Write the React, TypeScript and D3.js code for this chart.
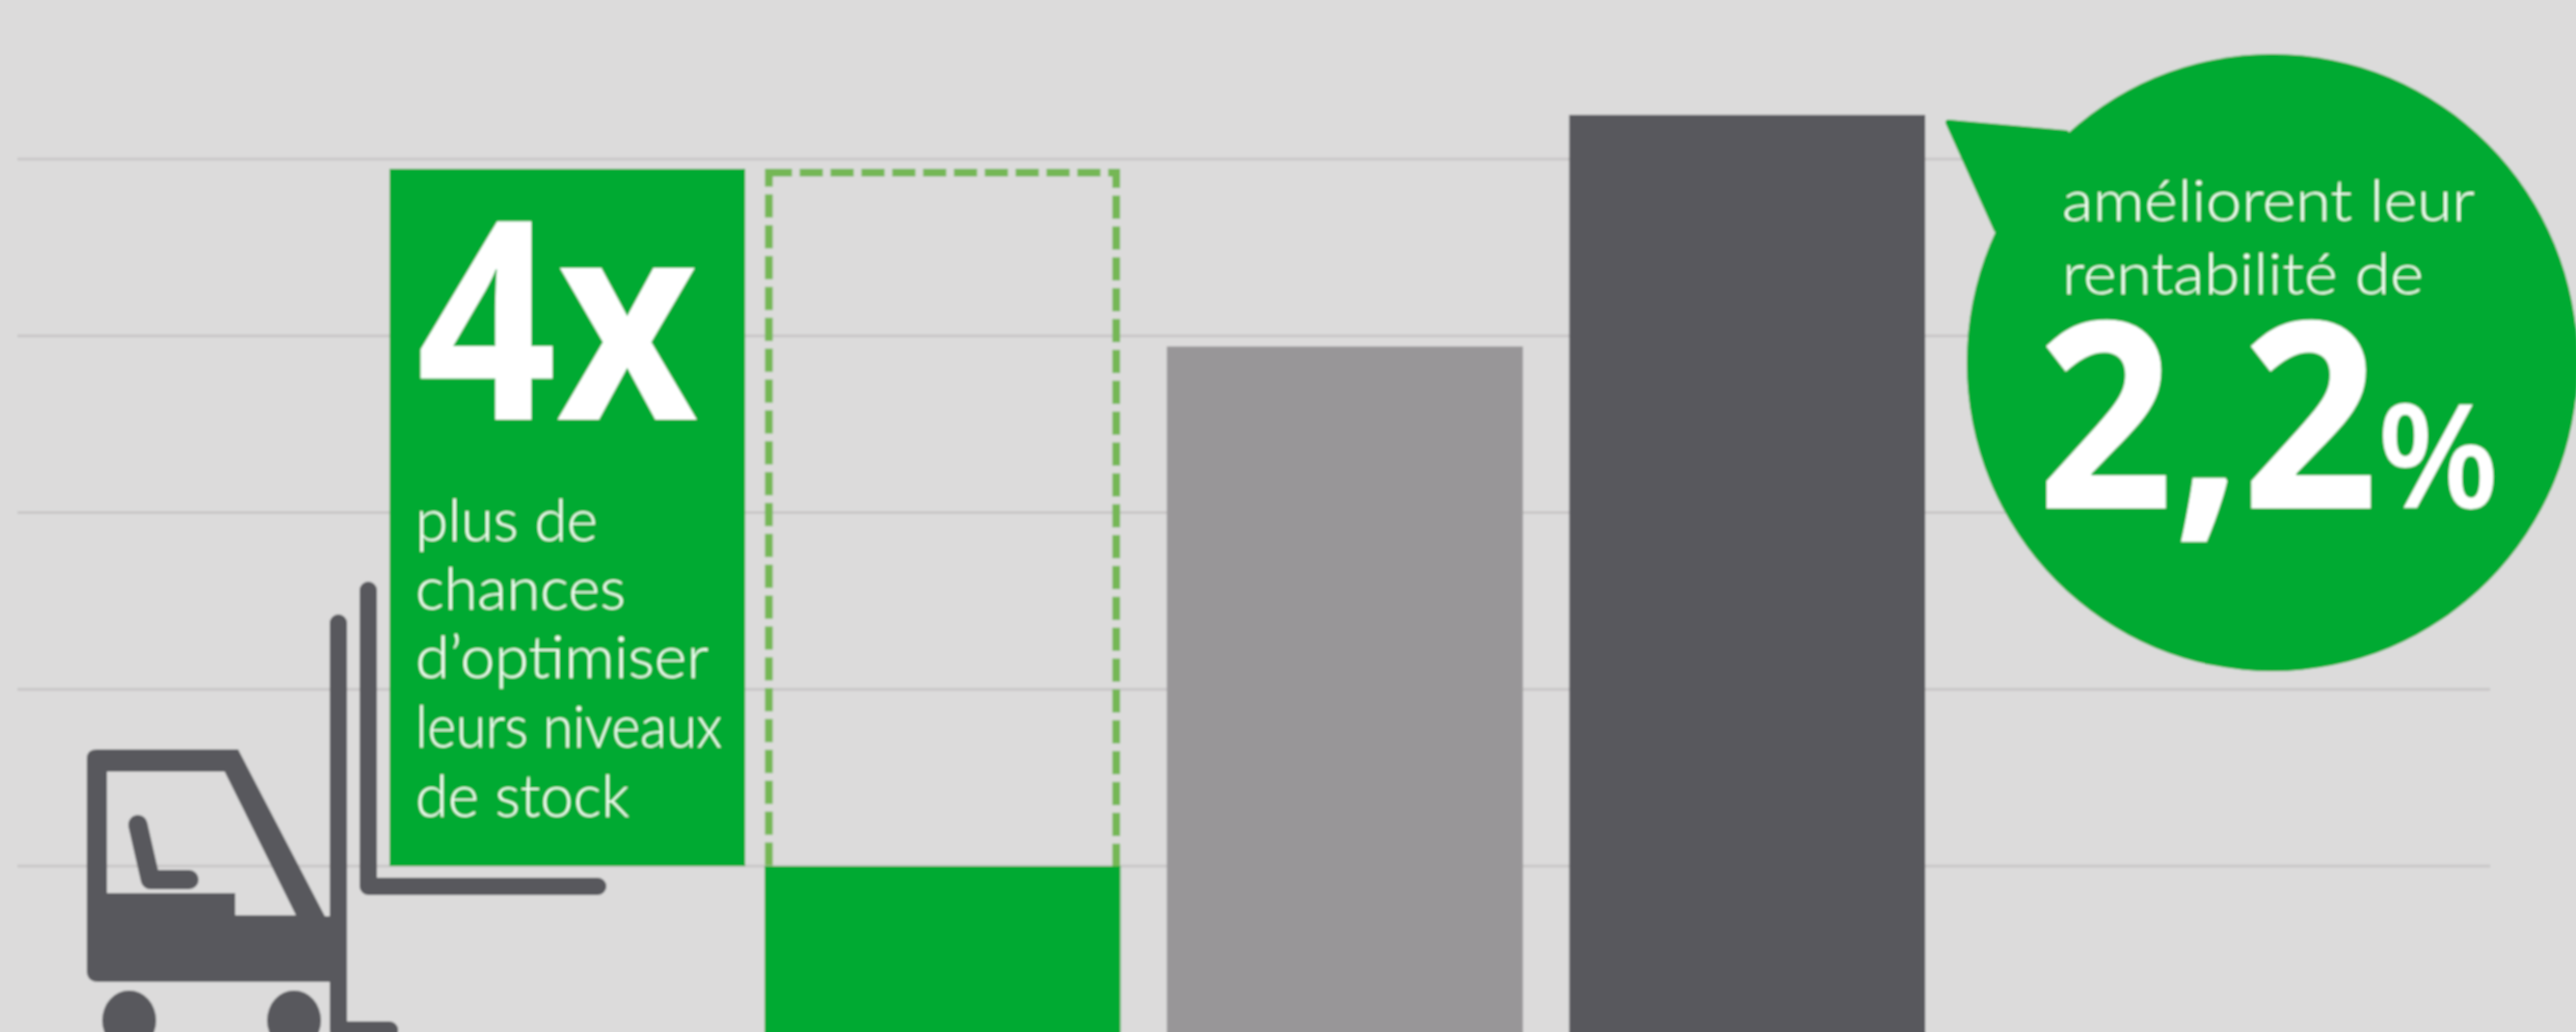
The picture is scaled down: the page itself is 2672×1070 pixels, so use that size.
import React from "react";
import * as d3 from "d3";

const categories = ["Objectif", "Moyenne", "Leaders"];
const barValues = [1, 3.94, 5.25];
const barColors = ["#00aa33", "#989698", "#58595d"];
const dashedTopValue = 4.945;
const gridTicks = [1, 2, 3, 4, 5];
const boxLines = ["plus de", "chances", "d’optimiser", "leurs niveaux", "de stock"];
const bubbleLines = ["améliorent leur", "rentabilité de"];

const W = 2672;
const H = 1070;
const GREEN = "#00aa33";
const DARK = "#58595d";
const BG = "#dcdbdb";
const FONT = "Lato, 'Open Sans', sans-serif";
const BOLD = "'Open Sans', Lato, sans-serif";

export default function App() {
  const y = d3.scaleLinear().domain([0, 5]).range([1081.25, 165]);
  const x = d3
    .scaleBand<string>()
    .domain(categories)
    .range([793, 1997])
    .paddingInner(48 / 417);
  const bw = x.bandwidth();
  const boxBaselines = [561, 632, 703, 775, 847];
  const boxWidths = [189, 218, 304, 318, 222];
  const first = x(categories[0])!;

  return (
    <svg
      width={W}
      height={H}
      viewBox={`0 0 ${W} ${H}`}
      style={{ position: "absolute", left: 0, top: 0, display: "block", background: BG }}
    >
      <defs>
        <filter id="soft" x="0" y="0" width="100%" height="100%">
          <feGaussianBlur stdDeviation="0.9" />
        </filter>
      </defs>
      <g filter="url(#soft)">
        <rect width={W} height={H} fill={BG} />
        {gridTicks.map((t) => (
          <line key={t} x1={18} x2={2583} y1={y(t)} y2={y(t)} stroke="#c9c7c8" strokeWidth={3} />
        ))}

        {/* dashed target frame: its foot is hidden under the solid bar */}
        <rect
          x={first + 4.5}
          y={y(dashedTopValue) + 4}
          width={bw - 9}
          height={y(1) - y(dashedTopValue) + 12}
          fill="none"
          stroke="#74b755"
          strokeWidth={8}
          strokeDasharray="24 8"
        />

        {categories.map((c, i) => (
          <rect
            key={c}
            x={x(c)}
            y={y(barValues[i])}
            width={bw}
            height={y(0) - y(barValues[i])}
            fill={barColors[i]}
          />
        ))}

        {/* forklift */}
        <g fill={DARK}>
          <path
            fillRule="evenodd"
            d="M100 777 H247 L337 950 H352 V1018 H102 Q90 1018 90 1006 V787 Q90 777 100 777 Z
               M111 800 V926 H244 V949 H307 L233 800 Z"
          />
          <ellipse cx={134} cy={1058} rx={28} ry={31} />
          <ellipse cx={305} cy={1058} rx={28} ry={31} />
        </g>
        <g fill="none" stroke={DARK} strokeLinecap="round" strokeLinejoin="round">
          <path d="M143 855 L156 912 H196" strokeWidth={20} />
          <path d="M351 646 V1068 H404" strokeWidth={18} />
          <path d="M382 612 V919 H620" strokeWidth={18} />
        </g>

        {/* green box */}
        <rect x={404} y={y(dashedTopValue)} width={369} height={y(1) - y(dashedTopValue)} fill={GREEN} />
        <text x={432} y={435} fill="#fff" fontFamily={BOLD} fontWeight={700} fontSize={288} textLength={292} lengthAdjust="spacingAndGlyphs">
          4x
        </text>
        {boxLines.map((l, i) => (
          <text
            key={l}
            x={431}
            y={boxBaselines[i]}
            fill="#f2fff2"
            fontFamily={FONT}
            fontWeight={300}
            fontSize={62}
            textLength={boxWidths[i]}
            lengthAdjust="spacingAndGlyphs"
          >
            {l}
          </text>
        ))}

        {/* bubble */}
        <path fill={GREEN} d="M2021 127 L2143 138 L2200 200 L2071 238 Z" stroke={GREEN} strokeLinejoin="round" strokeWidth={6} />
        <ellipse cx={2357} cy={376} rx={317} ry={320} fill={GREEN} />
        {bubbleLines.map((l, i) => (
          <text
            key={l}
            x={2139}
            y={229 + i * 75.5}
            fill="#f2fff2"
            fontFamily={FONT}
            fontWeight={300}
            fontSize={60}
            textLength={i === 0 ? 428 : 375}
            lengthAdjust="spacingAndGlyphs"
          >
            {l}
          </text>
        ))}
        <text x={2113} y={527} fill="#fff" fontFamily={BOLD} fontWeight={700} fontSize={270} textLength={354} lengthAdjust="spacingAndGlyphs">
          2,2
        </text>
        <text x={2466} y={527} fill="#fff" fontFamily={BOLD} fontWeight={600} fontSize={150} textLength={126} lengthAdjust="spacingAndGlyphs">
          %
        </text>
      </g>
    </svg>
  );
}
